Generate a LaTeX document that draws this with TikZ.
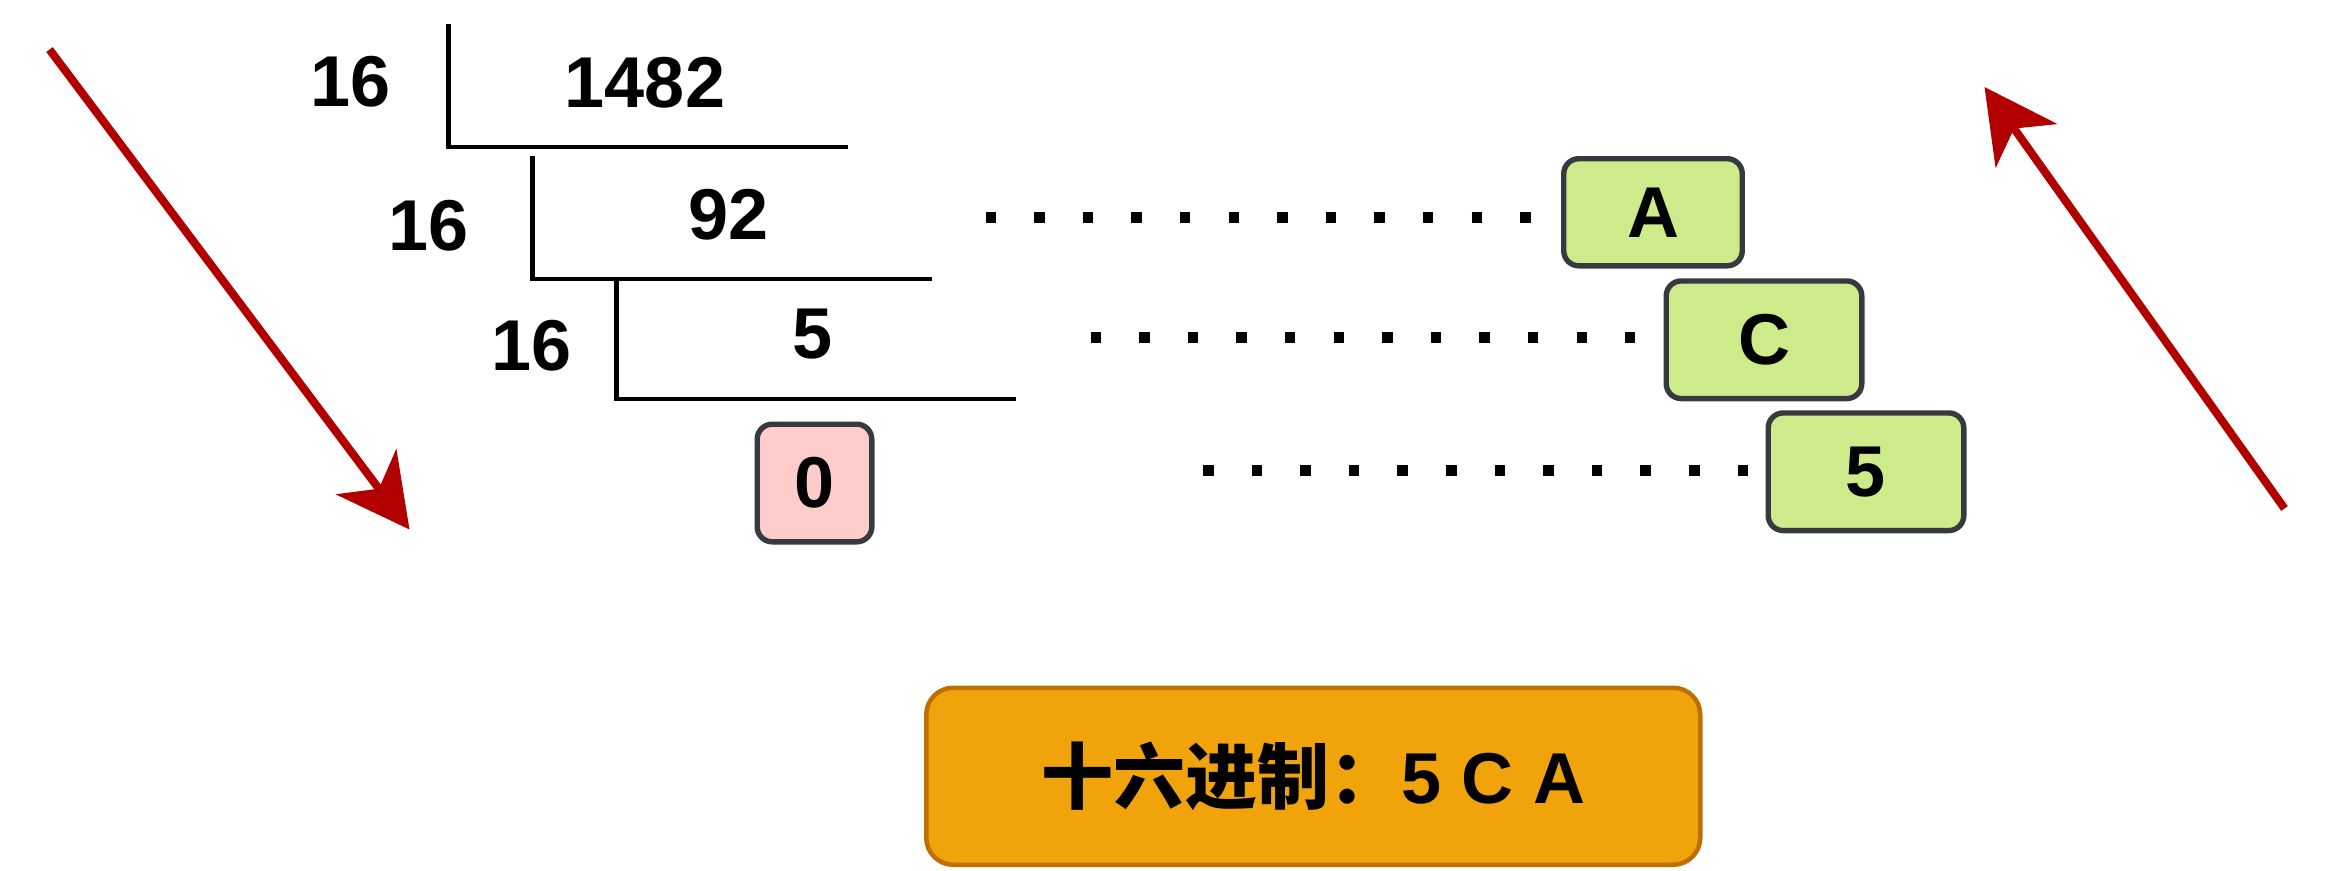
\documentclass[tikz,border=0pt]{standalone}
\usepackage{fontspec}
\setmainfont{Liberation Sans}
\newfontfamily\cjk{Noto Sans CJK SC}
\usetikzlibrary{arrows.meta}

\definecolor{arrowred}{HTML}{B20000}
\definecolor{boxgreen}{HTML}{CDEB8B}
\definecolor{boxpink}{HTML}{FFCCCC}
\definecolor{boxline}{HTML}{36393D}
\definecolor{resfill}{HTML}{F0A30A}
\definecolor{resline}{HTML}{BD7000}

\tikzset{
  num/.style={font=\fontsize{24}{29}\selectfont\bfseries, inner sep=0pt},
  bracket/.style={line width=1.4pt},
  digitbox/.style={draw=boxline, line width=1.8pt, rounded corners=5pt,
    font=\fontsize{24}{29}\selectfont\bfseries, inner sep=0pt},
  dots/.style={line width=3.5pt, dash pattern=on 3.5pt off 12.7pt},
  bigarrow/.style={draw=arrowred, line width=2.7pt,
    -{Stealth[length=24pt, width=25pt, inset=7pt]}}
}

\begin{document}
\begin{tikzpicture}[x=0.5pt, y=-0.5pt]

\useasboundingbox (0,0) rectangle (1560,580);

% Divisions
\node[num] (div1) at (233.5,54.5) {16};
\node[num] (quo1) at (430,55) {1482};
\draw[bracket] (299,16) -- (299,98) -- (565,98);

\node[num] (div2) at (286,150.5) {16};
\node[num] (quo2) at (485.5,143) {92};
\draw[bracket] (355,104) -- (355,186) -- (621,186);

\node[num] (div3) at (354.5,230.5) {16};
\node[num] (quo3) at (541.5,223) {5};
\draw[bracket] (411,186) -- (411,266) -- (677,266);

% Last quotient
\node[digitbox, fill=boxpink, minimum width=38.2pt, minimum height=39.2pt] (zero) at (543,322) {0};

% Remainders
\node[digitbox, fill=boxgreen, minimum width=59.5pt, minimum height=35.7pt] (remA) at (1102,141.5) {A};
\node[digitbox, fill=boxgreen, minimum width=65.2pt, minimum height=39.2pt] (remC) at (1176,226.5) {C};
\node[digitbox, fill=boxgreen, minimum width=65.2pt, minimum height=39.2pt] (rem5) at (1244,314.5) {5};

% Dotted leaders
\coordinate (lead1) at (657,145);
\coordinate (lead2) at (727,225);
\coordinate (lead3) at (802,313.5);
\draw[dots, shorten >=9.75pt] (lead1) -- (lead1 -| remA.west);
\draw[dots, shorten >=9.5pt] (lead2) -- (lead2 -| remC.west);
\draw[dots, shorten >=5.5pt] (lead3) -- (lead3 -| rem5.west);

% Red arrows
\coordinate (down0) at (33,33);
\coordinate (down1) at (273,353);
\draw[bigarrow] (down0) -- (down1);
\coordinate (up0) at (1523,339);
\coordinate (up1) at (1323,58);
\draw[bigarrow] (up0) -- (up1);

% Result
\node[draw=resline, fill=resfill, line width=1.5pt, rounded corners=9pt,
  minimum width=258pt, minimum height=59pt, inner sep=0pt,
  font=\fontsize{24}{29}\selectfont\bfseries] (result) at (875.5,517.5)
  {{\cjk 十六进制：}5 C A};

\end{tikzpicture}
\end{document}
